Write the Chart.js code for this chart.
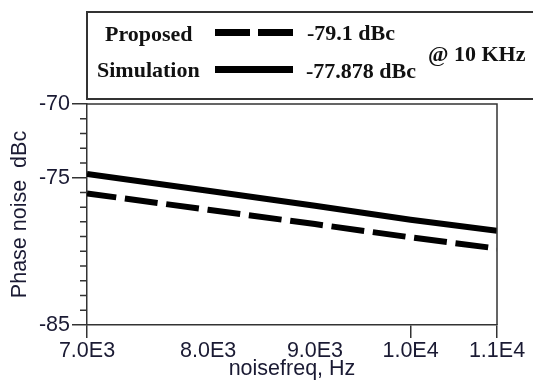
<!DOCTYPE html>
<html>
<head>
<meta charset="utf-8">
<script src="https://cdn.jsdelivr.net/npm/chart.js@4"></script>
<style>
    html, body { margin: 0; padding: 0; background: #fff; }
    #wrap { position: relative; width: 533px; height: 382px; overflow: hidden; }
    #chart { position: absolute; left: 0; top: 0; }
    .box { position: absolute; left: 86px; top: 11px; width: 470px; height: 89px;
           border: 2px solid #333; box-sizing: border-box; }
    .lg { position: absolute; font: bold 22px "Liberation Serif", "Times New Roman", serif;
          line-height: 22px; color: #111; white-space: nowrap; }
    .dash { position: absolute; height: 7px; background: #000; }
</style>
</head>
<body>
<div id="wrap">
    <canvas id="chart" width="533" height="382"></canvas>
    <div class="box"></div>
    <div class="lg" style="left:105px; top:23px;">Proposed</div>
    <div class="lg" style="left:97px; top:59px;">Simulation</div>
    <div class="dash" style="left:215px; top:29px; width:35px;"></div>
    <div class="dash" style="left:258px; top:29px; width:35px;"></div>
    <div class="dash" style="left:215px; top:66px; width:78px;"></div>
    <div class="lg" style="left:307px; top:22px;">-79.1 dBc</div>
    <div class="lg" style="left:306px; top:60px;">-77.878 dBc</div>
    <div class="lg" style="left:428px; top:43px;">@ 10 KHz</div>
</div>
<script>
// Values at the x tick frequencies
const freqs = [7000, 8000, 9000, 10000, 11000];
const proposed = [-76.07, -77.18, -78.15, -79.05, -79.81];
const simulation = [-74.75, -75.89, -76.90, -77.85, -78.61];
const xTickLabels = ['7.0E3', '8.0E3', '9.0E3', '1.0E4', '1.1E4'];
const xTicksDrawn = [7000, 10000, 11000];
const yTickValues = [-70, -75, -85];

const AXIS_COLOR = '#333';
const TEXT_COLOR = '#1a1a33';
const SANS = '"Liberation Sans", Arial, sans-serif';

function toPoints(values) {
    return freqs.map((f, i) => ({ x: f, y: values[i] }));
}

// Small ticks every 1 dB and the top/right frame of the plot
const framePlugin = {
    id: 'frame',
    afterDraw(chart) {
        const { ctx, chartArea, scales } = chart;
        ctx.save();
        ctx.strokeStyle = AXIS_COLOR;
        ctx.lineWidth = 1.5;
        ctx.beginPath();
        ctx.moveTo(chartArea.left, chartArea.top);
        ctx.lineTo(chartArea.right, chartArea.top);
        ctx.lineTo(chartArea.right, chartArea.bottom);
        for (let v = -85; v <= -70; v++) {
            if (yTickValues.includes(v)) continue;
            const y = scales.y.getPixelForValue(v);
            ctx.moveTo(chartArea.left - 7, y);
            ctx.lineTo(chartArea.left, y);
        }
        ctx.stroke();
        ctx.restore();
    }
};

new Chart(document.getElementById('chart'), {
    type: 'line',
    data: {
        datasets: [{
            label: 'Proposed',
            data: toPoints(proposed),
            borderColor: '#000',
            borderWidth: 6,
            borderDash: [33, 8.7],
            borderDashOffset: 3.5,
            borderCapStyle: 'butt',
            pointRadius: 0,
            tension: 0
        }, {
            label: 'Simulation',
            data: toPoints(simulation),
            borderColor: '#000',
            borderWidth: 6,
            borderCapStyle: 'butt',
            pointRadius: 0,
            tension: 0
        }]
    },
    options: {
        responsive: false,
        animation: false,
        devicePixelRatio: 1,
        layout: { padding: { top: 104, right: 36, left: 0, bottom: 0 } },
        plugins: {
            legend: { display: false },
            tooltip: { enabled: false }
        },
        scales: {
            x: {
                type: 'logarithmic',
                min: 7000,
                max: 11000,
                afterBuildTicks: scale => { scale.ticks = freqs.map(v => ({ value: v })); },
                afterFit: scale => { scale.height = 57; },
                ticks: {
                    autoSkip: false,
                    maxRotation: 0,
                    padding: 0,
                    color: TEXT_COLOR,
                    font: { family: SANS, size: 21.5 },
                    callback: (v, i) => xTickLabels[i]
                },
                grid: {
                    drawOnChartArea: false,
                    tickLength: 13,
                    lineWidth: 1.5,
                    color: c => (c.tick && xTicksDrawn.includes(c.tick.value)) ? AXIS_COLOR : 'rgba(0,0,0,0)'
                },
                border: { color: AXIS_COLOR, width: 1.5 },
                title: {
                    display: true,
                    text: 'noisefreq, Hz',
                    color: TEXT_COLOR,
                    padding: { top: 0, bottom: 0 },
                    font: { family: SANS, size: 21.5 }
                }
            },
            y: {
                min: -85,
                max: -70,
                afterBuildTicks: scale => { scale.ticks = yTickValues.map(v => ({ value: v })); },
                afterFit: scale => { scale.width = 87; },
                ticks: {
                    padding: 2,
                    color: TEXT_COLOR,
                    font: { family: SANS, size: 21.5 },
                    callback: v => String(v)
                },
                grid: {
                    drawOnChartArea: false,
                    tickLength: 15,
                    lineWidth: 1.5,
                    color: AXIS_COLOR
                },
                border: { color: AXIS_COLOR, width: 1.5 },
                title: {
                    display: true,
                    text: 'Phase noise  dBc',
                    color: TEXT_COLOR,
                    padding: { top: 7, bottom: 0 },
                    font: { family: SANS, size: 21.5 }
                }
            }
        }
    },
    plugins: [framePlugin]
});
</script>
</body>
</html>
